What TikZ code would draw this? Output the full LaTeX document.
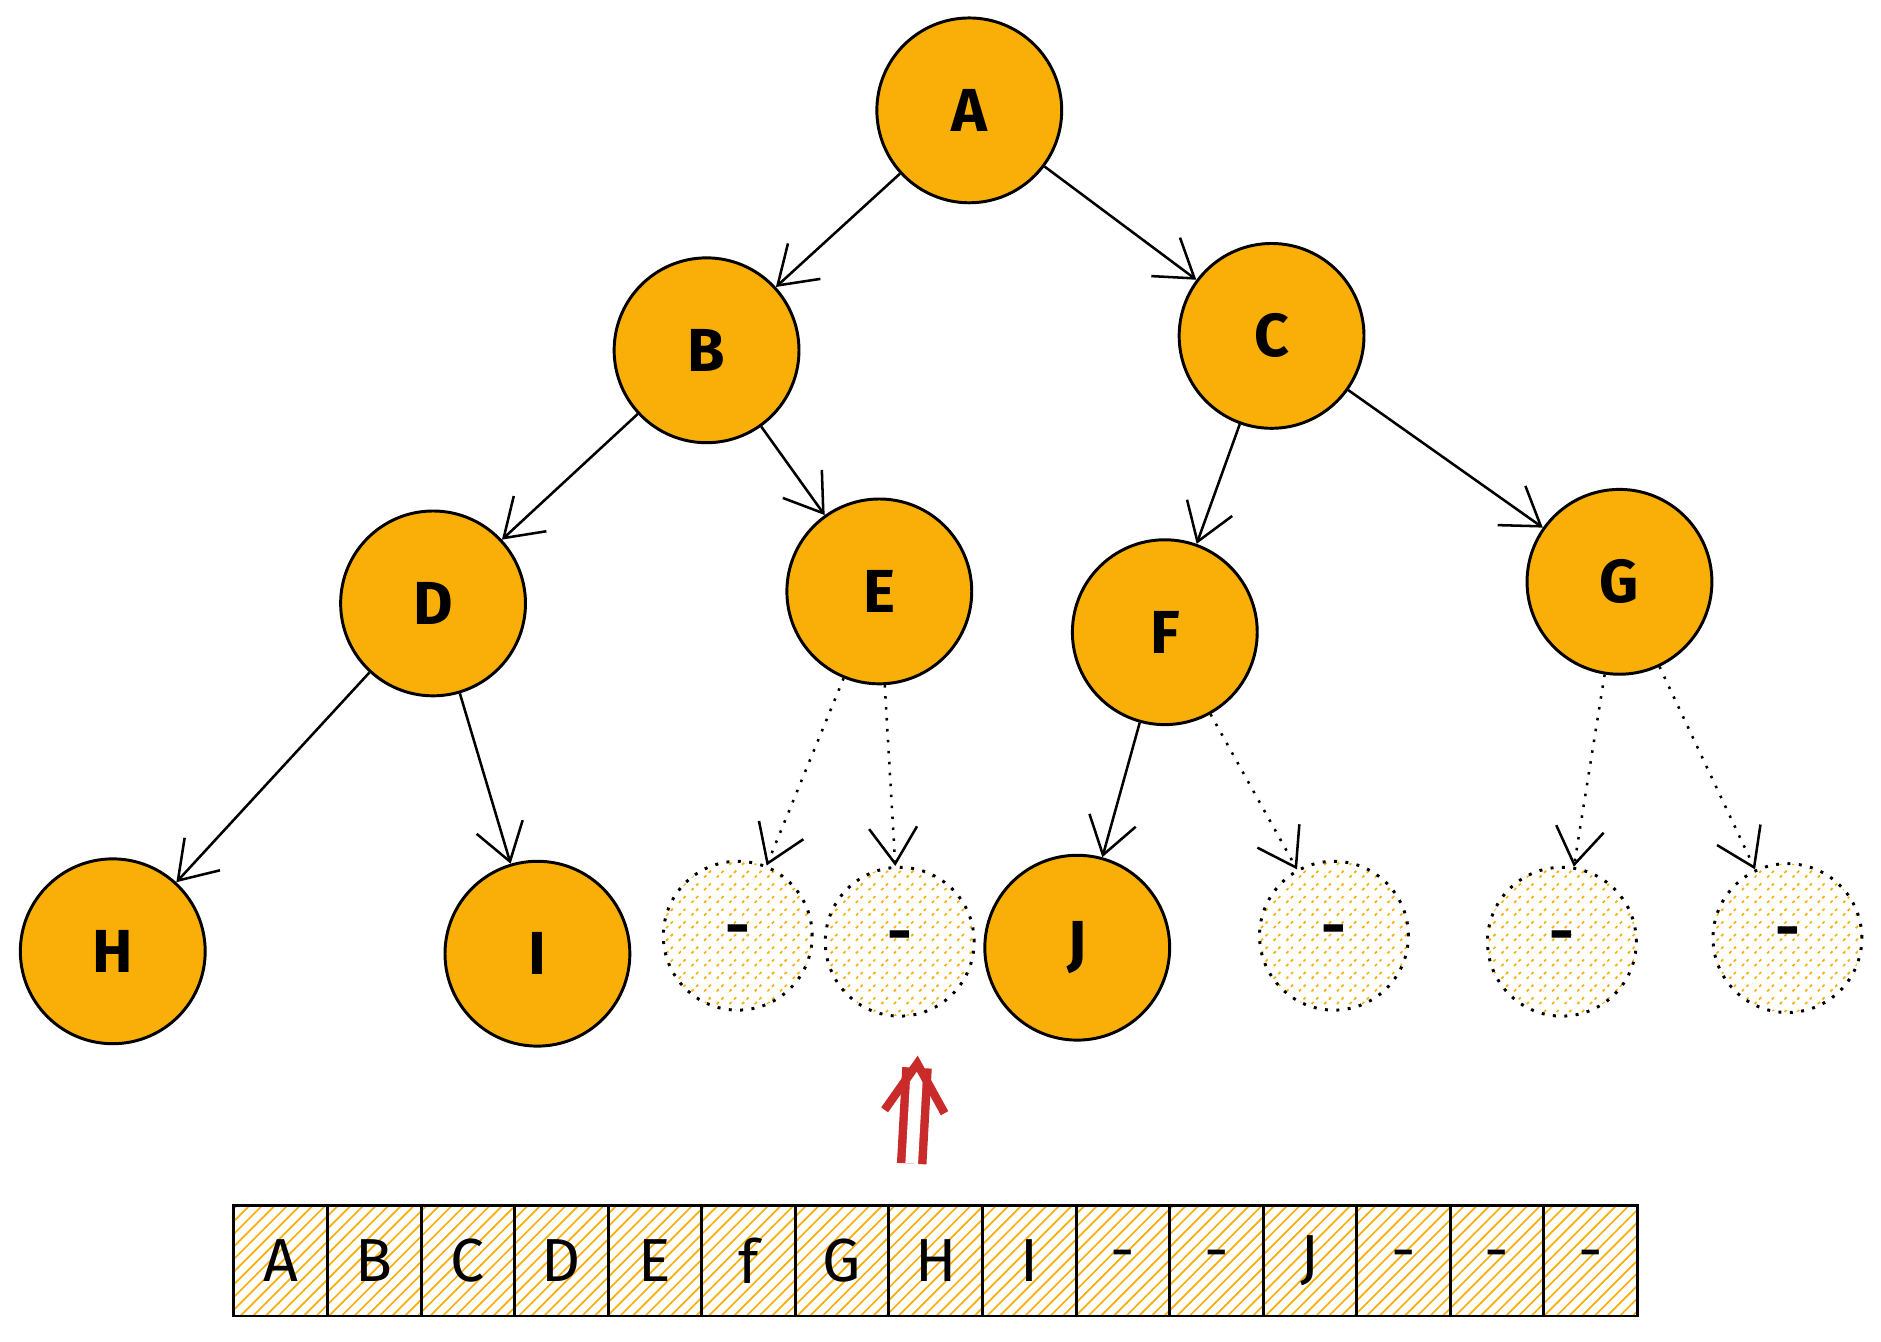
\documentclass[tikz,border=0pt]{standalone}
\usepackage{fontspec}
\setmainfont{Fira Sans}
\usetikzlibrary{patterns,arrows.meta}
\definecolor{treeorange}{HTML}{F9AF07}
\definecolor{arrowred}{HTML}{C92A2A}
\tikzset{
	full/.style={circle, draw=black, fill=treeorange, minimum size=15.4mm, inner sep=0pt, font=\Large\bfseries, line width=0.7pt},
	empty/.style={circle, draw=black, dotted, pattern={north east lines}, pattern color=treeorange, minimum size=12.4mm, inner sep=0pt, font=\Large\bfseries, line width=0.7pt},
	cellbox/.style={rectangle, draw=black, pattern={north east lines}, pattern color=treeorange, minimum width=7.8mm, minimum height=9.2mm, inner sep=0pt, font=\Large, line width=0.7pt},
	edge/.style={-{Straight Barb[length=3mm,width=4mm]}, line width=0.6pt},
	dotedge/.style={edge, dotted}
}
\begin{document}
\begin{tikzpicture}[x=0.01cm, y=-0.01cm]
	\useasboundingbox (0,0) rectangle (1568,1118);
	% tree nodes
	\node[full] (a) at (808,92) {A};
	\node[full] (b) at (589,292) {B};
	\node[full] (c) at (1060,280) {C};
	\node[full] (d) at (361,503) {D};
	\node[full] (e) at (733,493) {E};
	\node[full] (f) at (971,527) {F};
	\node[full] (g) at (1350,485) {G};
	\node[full] (h) at (94,793) {H};
	\node[full] (i) at (448,795) {I};
	\node[full] (j) at (898,790) {J};
	% missing children
	\node[empty] (e1) at (615,780) {-};
	\node[empty] (e2) at (750,785) {-};
	\node[empty] (f2) at (1112,780) {-};
	\node[empty] (g1) at (1302,785) {-};
	\node[empty] (g2) at (1490,782) {-};
	% edges
	\draw[edge] (a) -- (b);
	\draw[edge] (a) -- (c);
	\draw[edge] (b) -- (d);
	\draw[edge] (b) -- (e);
	\draw[edge] (c) -- (f);
	\draw[edge] (c) -- (g);
	\draw[edge] (d) -- (h);
	\draw[edge] (d) -- (i);
	\draw[edge] (f) -- (j);
	\draw[dotedge] (e) -- (e1);
	\draw[dotedge] (e) -- (e2);
	\draw[dotedge] (f) -- (f2);
	\draw[dotedge] (g) -- (g1);
	\draw[dotedge] (g) -- (g2);
	% array
	\foreach \t [count=\k from 0] in {A,B,C,D,E,f,G,H,I,-,-,J,-,-,-}
		\node[cellbox] (cell\k) at (234+78*\k,1051) {\t};
	% pointer
	\coordinate (ptail) at (760,970);
	\coordinate (phead) at (765,880);
	\draw[arrowred, line width=2pt, double distance=3pt, -{Straight Barb[length=4mm,width=5mm]}] (ptail) -- (phead);
\end{tikzpicture}
\end{document}
